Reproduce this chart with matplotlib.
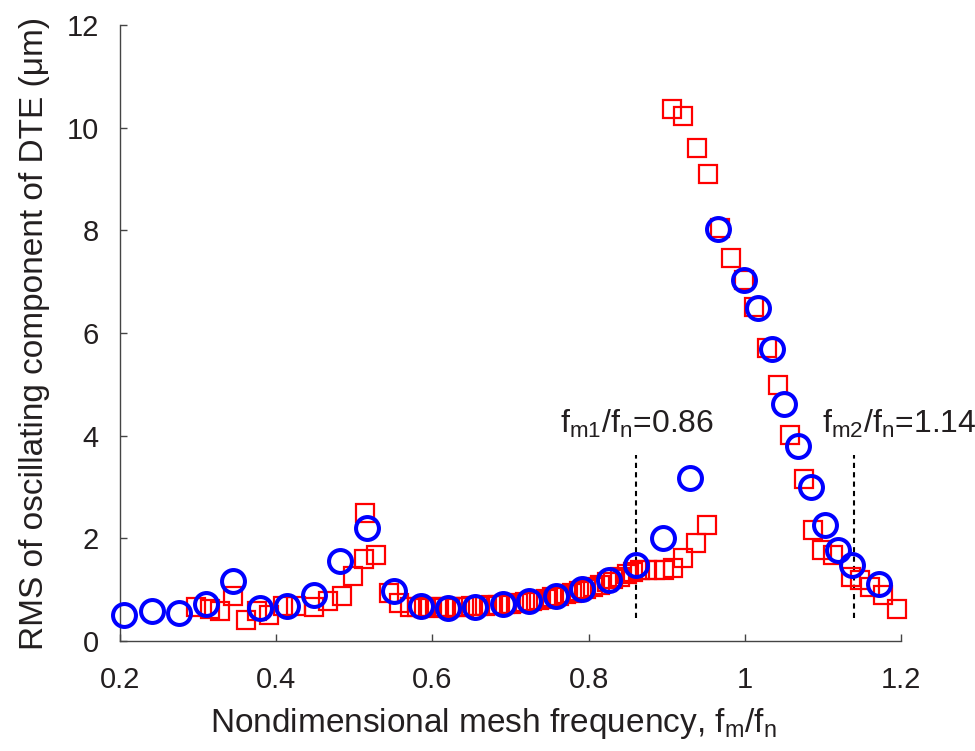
import matplotlib
matplotlib.use("Agg")
import matplotlib.pyplot as plt

plt.rcParams['font.family'] = ['Liberation Sans', 'DejaVu Sans']
plt.rcParams['mathtext.fontset'] = 'custom'
plt.rcParams['mathtext.rm'] = 'Liberation Sans'
plt.rcParams['mathtext.it'] = 'Liberation Sans'

TEXT = '#231f20'

# Simulated response (blue circles)
sim_x = [0.206, 0.241, 0.276, 0.310, 0.345, 0.380, 0.414, 0.448, 0.482, 0.516,
         0.551, 0.586, 0.620, 0.655, 0.690, 0.724, 0.758, 0.792, 0.826, 0.861,
         0.895, 0.930, 0.965, 0.999, 1.016, 1.034, 1.050, 1.068, 1.084, 1.102,
         1.119, 1.137, 1.171]
sim_y = [0.51, 0.58, 0.54, 0.72, 1.17, 0.65, 0.69, 0.90, 1.55, 2.21,
         0.97, 0.69, 0.65, 0.66, 0.72, 0.78, 0.88, 1.02, 1.19, 1.48,
         2.01, 3.17, 8.02, 7.04, 6.49, 5.69, 4.62, 3.80, 2.99, 2.25,
         1.77, 1.48, 1.11]

# Measured response (red squares)
exp_x = [0.297, 0.3155, 0.328, 0.345, 0.362, 0.375, 0.391, 0.409, 0.426, 0.448,
         0.467, 0.484, 0.498, 0.513, 0.514, 0.528, 0.544, 0.557, 0.571,
         0.580, 0.589, 0.597, 0.606, 0.615, 0.623, 0.632, 0.641, 0.649, 0.658,
         0.667, 0.675, 0.684, 0.693, 0.701, 0.710, 0.719, 0.727, 0.736, 0.745,
         0.753, 0.762, 0.771, 0.779, 0.788, 0.797, 0.805, 0.814, 0.823, 0.831,
         0.840, 0.849, 0.857, 0.866, 0.874, 0.885, 0.896, 0.908, 0.920, 0.937,
         0.951,
         0.907, 0.921, 0.938, 0.952, 0.968, 0.982, 0.999, 1.012, 1.028, 1.042,
         1.058, 1.075, 1.087, 1.098, 1.113, 1.136, 1.147, 1.160, 1.177, 1.194]
exp_y = [0.67, 0.62, 0.58, 0.88, 0.40, 0.58, 0.51, 0.69, 0.68, 0.67,
         0.77, 0.87, 1.26, 1.59, 2.50, 1.67, 0.93, 0.74, 0.66,
         0.66, 0.65, 0.66, 0.66, 0.65, 0.66, 0.67, 0.67, 0.68, 0.68,
         0.69, 0.70, 0.71, 0.72, 0.73, 0.74, 0.76, 0.78, 0.80, 0.82,
         0.85, 0.88, 0.91, 0.94, 0.98, 1.02, 1.06, 1.10, 1.15, 1.20,
         1.25, 1.30, 1.35, 1.38, 1.38, 1.38, 1.39, 1.42, 1.61, 1.90,
         2.26,
         10.37, 10.22, 9.61, 9.09, 8.05, 7.46, 7.03, 6.50, 5.70, 4.99,
         4.01, 3.15, 2.16, 1.77, 1.67, 1.25, 1.19, 1.06, 0.90, 0.62]

# Resonance markers
res_x = [0.86, 1.14]
res_labels = [r'f$_{\mathregular{m1}}$/f$_{\mathregular{n}}$=0.86',
              r'f$_{\mathregular{m2}}$/f$_{\mathregular{n}}$=1.14']
res_label_x = [0.763, 1.098]

x_ticks = [0.2, 0.4, 0.6, 0.8, 1.0, 1.2]
x_ticklabels = ['0.2', '0.4', '0.6', '0.8', '1', '1.2']
y_ticks = [0, 2, 4, 6, 8, 10, 12]

fig = plt.figure(figsize=(9.75, 7.51), dpi=100)
ax = fig.add_axes([0.1228, 0.1465, 0.8017, 0.8202])

ax.plot(exp_x, exp_y, linestyle='none', marker='s', markersize=13,
        markerfacecolor='none', markeredgecolor='#ff0000', markeredgewidth=1.6,
        clip_on=False, zorder=3)
ax.plot(sim_x, sim_y, linestyle='none', marker='o', markersize=16.5,
        markerfacecolor='none', markeredgecolor='#0000ff', markeredgewidth=2.9,
        clip_on=False, zorder=4)

for xv, lab, lx in zip(res_x, res_labels, res_label_x):
    ax.plot([xv, xv], [0.45, 3.62], color='black', linewidth=1.5,
            linestyle=(0, (2.5, 2)), zorder=2)
    ax.text(lx, 4.05, lab, fontsize=23, color=TEXT, ha='left', va='baseline')

ax.set_xlim(0.2, 1.2)
ax.set_ylim(0, 12)
ax.set_xticks(x_ticks)
ax.set_xticklabels(x_ticklabels)
ax.set_yticks(y_ticks)

for side in ('top', 'right'):
    ax.spines[side].set_visible(False)
for side in ('left', 'bottom'):
    ax.spines[side].set_color('#444444')
    ax.spines[side].set_linewidth(1.0)

ax.tick_params(axis='both', direction='in', length=5, width=1.0,
               colors='#444444', labelcolor=TEXT, labelsize=21)
ax.tick_params(axis='x', pad=18)
ax.tick_params(axis='y', pad=15)

ax.set_xlabel(r'Nondimensional mesh frequency, f$_{\mathregular{m}}$/f$_{\mathregular{n}}$',
              fontsize=24, color=TEXT, labelpad=9)
ax.xaxis.label.set_x(0.478)
ax.set_ylabel('RMS of oscillating component of DTE (μm)',
              fontsize=24, color=TEXT, labelpad=12)

fig.savefig('out.png', dpi=100)
